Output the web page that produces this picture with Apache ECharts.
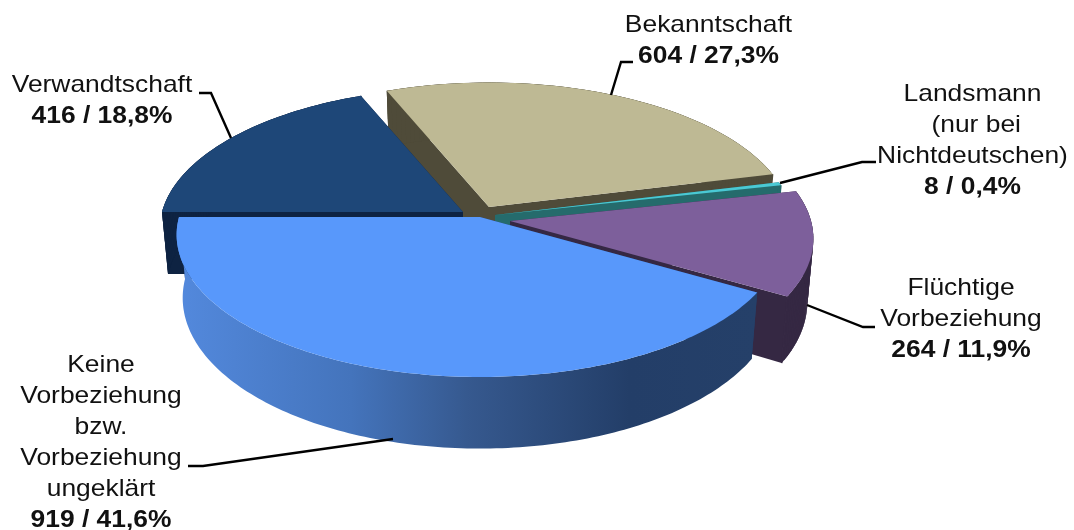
<!DOCTYPE html>
<html>
<head>
<meta charset="utf-8">
<style>html,body{margin:0;padding:0;background:#fff}#c{width:1074px;height:530px}</style>
<script src="https://cdn.jsdelivr.net/npm/echarts@6/dist/echarts.min.js"></script>
</head>
<body>
<div id="c"></div>
<script>
// ---- data (in angular order, starting at the left edge and running via the front) ----
const categories = ['Keine Vorbeziehung bzw. Vorbeziehung ungeklärt', 'Flüchtige Vorbeziehung', 'Landsmann (nur bei Nichtdeutschen)', 'Bekanntschaft', 'Verwandtschaft'];
const counts = [919, 264, 8, 604, 416];
const percentLabels = ['41,6%', '11,9%', '0,4%', '27,3%', '18,8%'];
const nameLines = [
  ['Keine', 'Vorbeziehung', 'bzw.', 'Vorbeziehung', 'ungeklärt'],
  ['Flüchtige', 'Vorbeziehung'],
  ['Landsmann', ' (nur bei', 'Nichtdeutschen)'],
  ['Bekanntschaft'],
  ['Verwandtschaft']
];

// ---- styling and layout ----
const topColors = ['#5898FB', '#7D5F9B', '#4AC9D4', '#BEB994', '#1E4778'];
const wallColors = ['#233E68', '#352843', '#256B6C', '#4F4B39', '#0E2342'];
const paintOrder = [3, 4, 2, 1, 0];
const center = [480, 217];
const explode = [[0, 0], [30, 4], [15, -2], [9, -10], [-17, -5]];
const R = 301, S = 140, K = 0.125, H = 62, BOTTOM_X = 0.98, BOTTOM_Y = 1.06;
const labelX = [101, 961, 972.5, 708.5, 102];
const labelY = [365, 288, 94, 25, 85];
const LINE_H = 31;
const leaders = [
  [[188, 466], [203, 466], [393, 439]],
  [[875, 327], [863, 327], [807, 305]],
  [[876, 162], [862, 162], [780, 183]],
  [[633, 62], [621, 62], [611, 95]],
  [[199, 93], [211, 93], [231, 138]]
];
const total = counts.reduce((a, b) => a + b, 0);
const startAngles = [];
const endAngles = [];
counts.reduce((acc, c, i) => {
  startAngles[i] = 180 - acc / total * 360;
  endAngles[i] = 180 - (acc + c) / total * 360;
  return acc + c;
}, 0);

function project(apex, deg, bottom) {
  const t = deg * Math.PI / 180, u = Math.cos(t), v = Math.sin(t), w = 1 - K * v;
  return bottom
    ? [apex[0] + BOTTOM_X * R * u / w, apex[1] + H + BOTTOM_Y * S * v / w]
    : [apex[0] + R * u / w, apex[1] + S * v / w];
}
function arc(apex, a, b, bottom) {
  const n = Math.max(2, Math.ceil(Math.abs(a - b)));
  const pts = [];
  for (let i = 0; i <= n; i++) pts.push(project(apex, a + (b - a) * i / n, bottom));
  return pts;
}
function poly(points, fill) {
  return { type: 'polygon', shape: { points }, style: { fill }, silent: true };
}
function renderSlice(params, api) {
  const i = api.value(0);
  const apex = [center[0] + explode[i][0], center[1] + explode[i][1]];
  const a = startAngles[i], b = endAngles[i];
  const apexLow = [apex[0], apex[1] + H];
  const wall = wallColors[i];
  const children = [
    poly([apex, project(apex, a, false), project(apex, a, true), apexLow], wall),
    poly([apex, project(apex, b, false), project(apex, b, true), apexLow], wall)
  ];
  const upper = arc(apex, a, b, false);
  const lower = arc(apex, a, b, true);
  if (i === 0) {
    const rimFill = new echarts.graphic.LinearGradient(0, 0, 1, 0, [
      { offset: 0, color: '#5389DD' },
      { offset: 0.3, color: '#4474BC' },
      { offset: 0.5, color: '#36598F' },
      { offset: 0.78, color: '#233E68' },
      { offset: 1, color: '#254069' }
    ]);
    children.push(poly(upper.concat(lower.slice().reverse()), rimFill));
  } else {
    // a rim that turns round the side of the pie is the union of small overlapping facets
    const last = upper.length - 1;
    for (let j = 0; j < last; j++) {
      const e = Math.min(j + 2, last);
      children.push(poly([upper[j], upper[e], lower[e], lower[j]], wall));
    }
    // close the hairline between the radial wall and the rim
    children.push({
      type: 'line',
      shape: { x1: upper[0][0], y1: upper[0][1], x2: lower[0][0], y2: lower[0][1] },
      style: { stroke: wall, lineWidth: 1.5 },
      silent: true
    });
  }
  children.push(poly([apex].concat(upper), topColors[i]));
  return { type: 'group', children };
}
function renderLabel(params, api) {
  const i = api.value(0);
  const children = [{
    type: 'polyline',
    shape: { points: leaders[i] },
    style: { stroke: '#000', lineWidth: 2.4, fill: null },
    silent: true
  }];
  const lines = nameLines[i].concat([counts[i] + ' / ' + percentLabels[i]]);
  lines.forEach((txt, j) => {
    const bold = j === lines.length - 1;
    children.push({
      type: 'text',
      x: labelX[i],
      y: labelY[i] + j * LINE_H,
      scaleX: 1.1,
      silent: true,
      style: {
        text: txt,
        align: 'center',
        verticalAlign: 'middle',
        fill: '#111',
        font: (bold ? 'bold ' : '') + '24px "Liberation Sans", Arial, sans-serif'
      }
    });
  });
  return { type: 'group', children };
}

const chart = echarts.init(document.getElementById('c'), null, { renderer: 'canvas' });
chart.setOption({
  backgroundColor: '#fff',
  animation: false,
  tooltip: { show: false },
  series: [
    { type: 'custom', name: 'Vorbeziehung', coordinateSystem: 'none', renderItem: renderSlice, z: 2,
      data: paintOrder.map(i => ({ name: categories[i], value: [i, counts[i]] })) },
    { type: 'custom', name: 'Beschriftung', coordinateSystem: 'none', renderItem: renderLabel, z: 5,
      data: paintOrder.map(i => ({ name: categories[i], value: [i, counts[i]] })) }
  ]
});
</script>
</body>
</html>
